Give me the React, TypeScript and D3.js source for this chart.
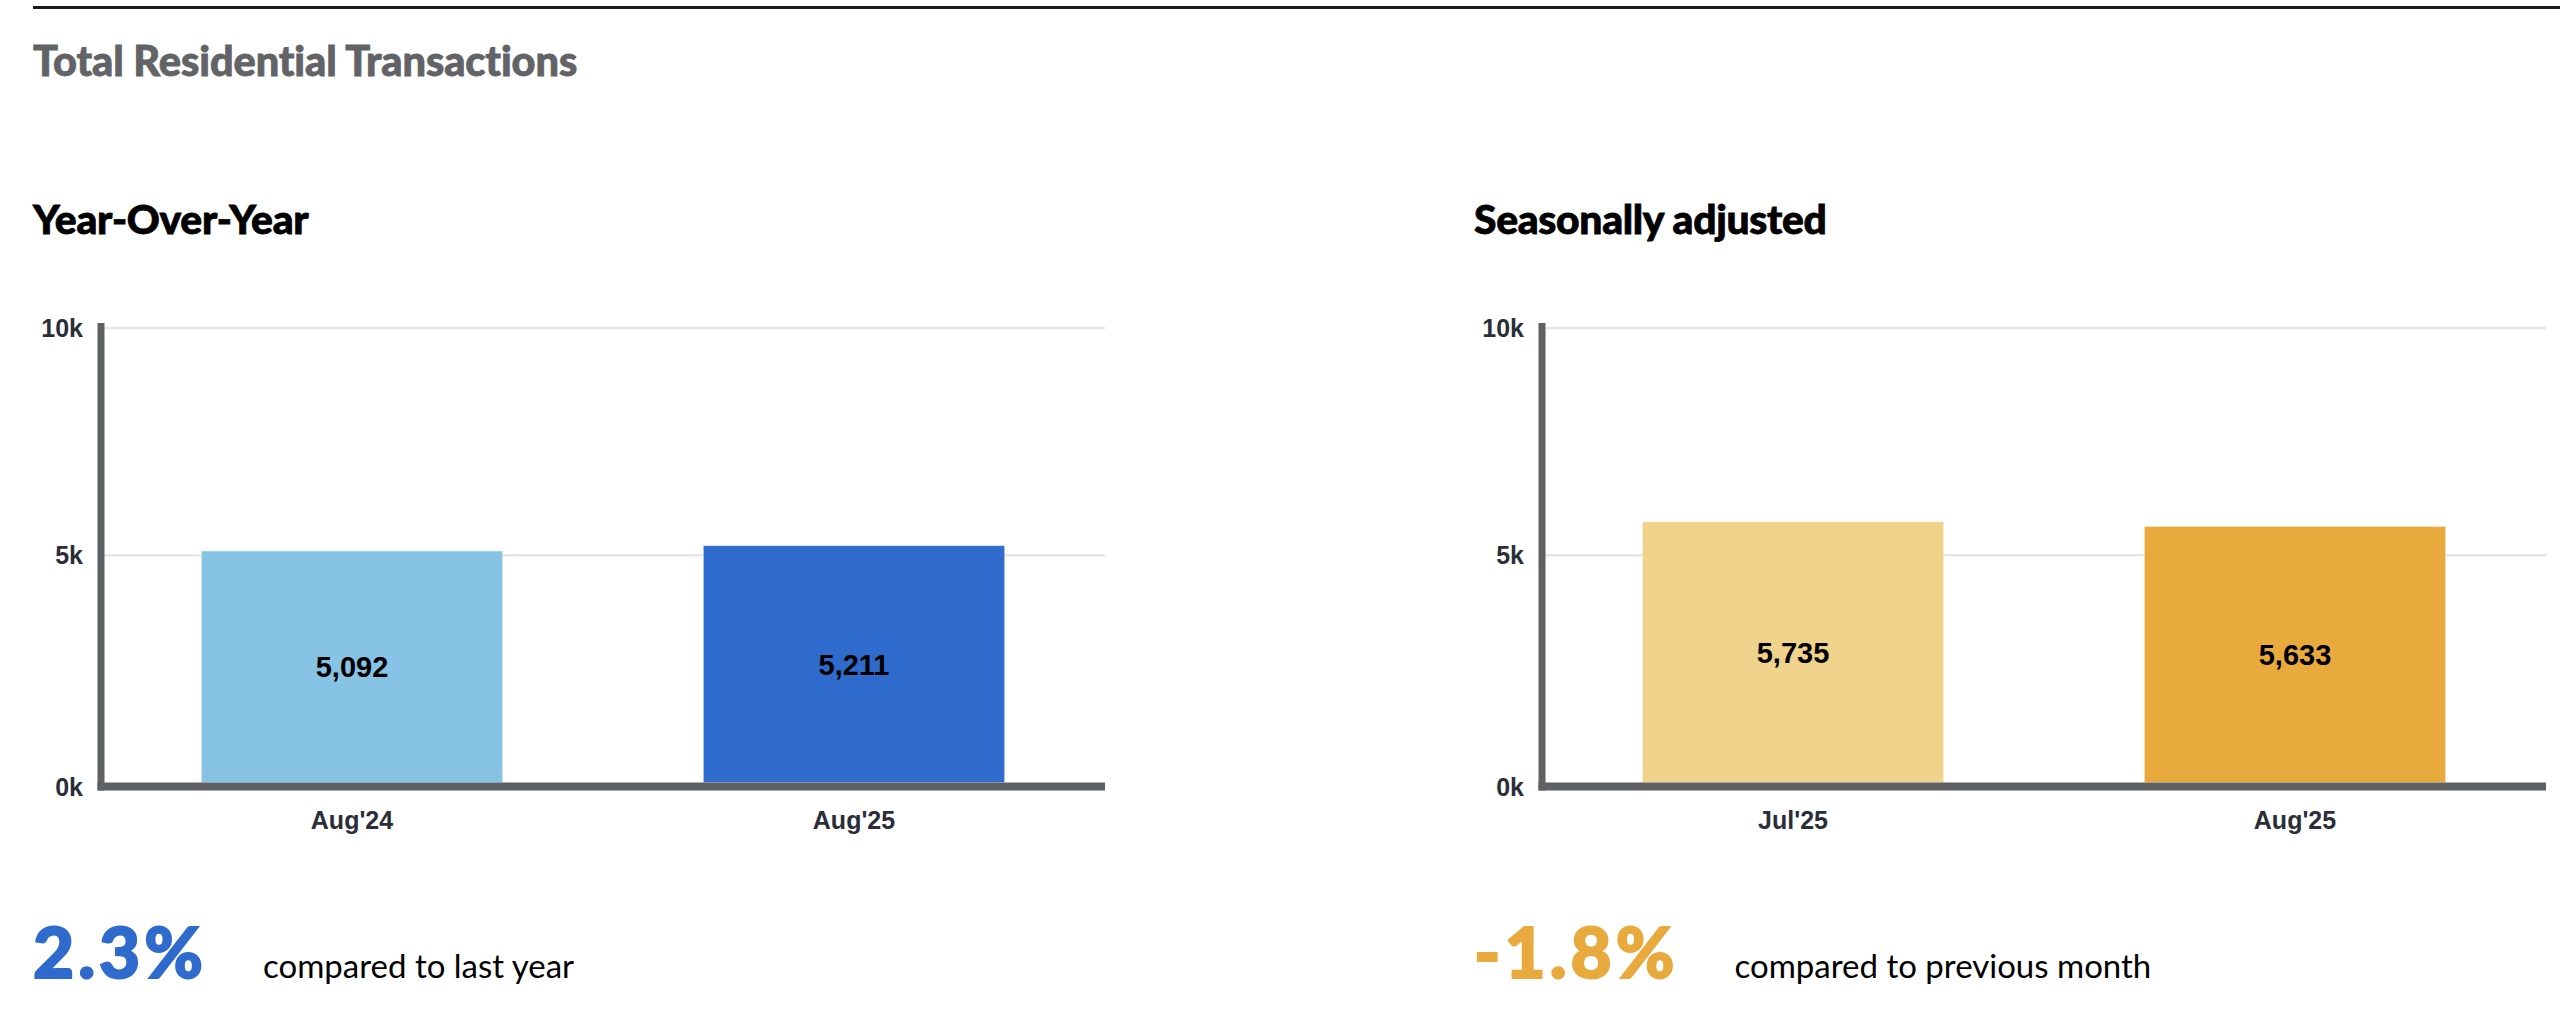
import React from "react";
import * as d3 from "d3";

const yoyCategories = ["Aug'24", "Aug'25"];
const yoyValues = [5092, 5211];
const yoyColors = ["#87c3e5", "#2f6bcc"];
const yoyChange = "2.3%";
const yoyChangeColor = "#2f6bcc";
const yoyChangeText = "compared to last year";

const saCategories = ["Jul'25", "Aug'25"];
const saValues = [5735, 5633];
const saColors = ["#f0d38a", "#e9aa3d"];
const saChange = "-1.8%";
const saChangeColor = "#e9aa3d";
const saChangeText = "compared to previous month";

const yTicks = [0, 5000, 10000];
const yDomain = [0, 10000];

const W = 2560;
const H = 1014;

const AXIS_COLOR = "#5f6063";
const GRID_COLOR = "#e6e6e6";
const LABEL_COLOR = "#2b2e38";
const CHART_FONT = "'Liberation Sans', Arial, Helvetica, sans-serif";
const HEAD_FONT = "Lato, 'Open Sans', sans-serif";

type PanelProps = {
  x0: number;
  title: string;
  categories: string[];
  values: number[];
  colors: string[];
  change: string;
  changeColor: string;
  changeText: string;
};

function Panel({ x0, title, categories, values, colors, change, changeColor, changeText }: PanelProps) {
  const axisX = x0 + 101;
  const plotLeft = axisX;
  const plotRight = x0 + 1105;
  const zeroY = 782.5;
  const topY = 328;

  const x = d3.scaleBand<string>().domain(categories).range([plotLeft, plotRight]).paddingInner(0.4).paddingOuter(0.2);
  const y = d3.scaleLinear().domain(yDomain).range([zeroY, topY]);
  const fmt = d3.format(",");

  return (
    <g>
      <text
        x={x0 + 33}
        y={234}
        fontFamily={HEAD_FONT}
        fontWeight={900}
        fontSize={40.8}
        fill="#000"
        stroke="#000"
        strokeWidth={0.8}
        letterSpacing={-0.3}
      >
        {title}
      </text>
      {yTicks.map((t) => (
        <g key={t}>
          {t !== 0 && (
            <line x1={axisX} x2={plotRight} y1={y(t)} y2={y(t)} stroke={GRID_COLOR} strokeWidth={2.5} />
          )}
          <text
            x={axisX - 18}
            y={t === 0 ? 786.5 : y(t)}
            dy="0.36em"
            textAnchor="end"
            fontFamily={CHART_FONT}
            fontWeight={700}
            fontSize={25}
            fill={LABEL_COLOR}
          >
            {`${t / 1000}k`}
          </text>
        </g>
      ))}
      {categories.map((c, i) => {
        const bx = x(c) as number;
        const by = y(values[i]);
        return (
          <g key={c}>
            <rect
              x={bx}
              y={by}
              width={x.bandwidth()}
              height={zeroY - by}
              fill={colors[i]}
              stroke="#ffffff"
              strokeOpacity={0.35}
              strokeWidth={1}
            />
            <text
              x={bx + x.bandwidth() / 2}
              y={(by + zeroY) / 2}
              dy="0.36em"
              textAnchor="middle"
              fontFamily={CHART_FONT}
              fontWeight={700}
              fontSize={29}
              fill="#000"
            >
              {fmt(values[i])}
            </text>
            <text
              x={bx + x.bandwidth() / 2}
              y={820}
              dy="0.36em"
              textAnchor="middle"
              fontFamily={CHART_FONT}
              fontWeight={700}
              fontSize={25}
              fill={LABEL_COLOR}
            >
              {c}
            </text>
          </g>
        );
      })}
      <line x1={axisX} x2={axisX} y1={323} y2={790.5} stroke={AXIS_COLOR} strokeWidth={7} />
      <line x1={axisX - 3.5} x2={plotRight} y1={786.5} y2={786.5} stroke={AXIS_COLOR} strokeWidth={8} />
      <text x={x0 + 33} y={978} fontFamily={HEAD_FONT}>
        <tspan
          fontWeight={900}
          fontSize={71}
          fill={changeColor}
          stroke={changeColor}
          strokeWidth={2}
          letterSpacing={4}
        >
          {change}
        </tspan>
        <tspan dx={56} fontWeight={400} fontSize={33} fill="#000" stroke="none" letterSpacing={0}>
          {changeText}
        </tspan>
      </text>
    </g>
  );
}

export default function App() {
  return (
    <svg
      width={W}
      height={H}
      viewBox={`0 0 ${W} ${H}`}
      style={{ position: "absolute", left: 0, top: 0, background: "#fff" }}
    >
      <rect x={0} y={0} width={W} height={H} fill="#fff" />
      <line x1={33} x2={W} y1={7.5} y2={7.5} stroke="#1a1a1a" strokeWidth={3} />
      <text
        x={33}
        y={76}
        fontFamily={HEAD_FONT}
        fontWeight={900}
        fontSize={41.5}
        fill="#626366"
        stroke="#626366"
        strokeWidth={0.8}
        letterSpacing={-0.1}
      >
        Total Residential Transactions
      </text>
      <Panel
        x0={0}
        title="Year-Over-Year"
        categories={yoyCategories}
        values={yoyValues}
        colors={yoyColors}
        change={yoyChange}
        changeColor={yoyChangeColor}
        changeText={yoyChangeText}
      />
      <Panel
        x0={1441}
        title="Seasonally adjusted"
        categories={saCategories}
        values={saValues}
        colors={saColors}
        change={saChange}
        changeColor={saChangeColor}
        changeText={saChangeText}
      />
    </svg>
  );
}
